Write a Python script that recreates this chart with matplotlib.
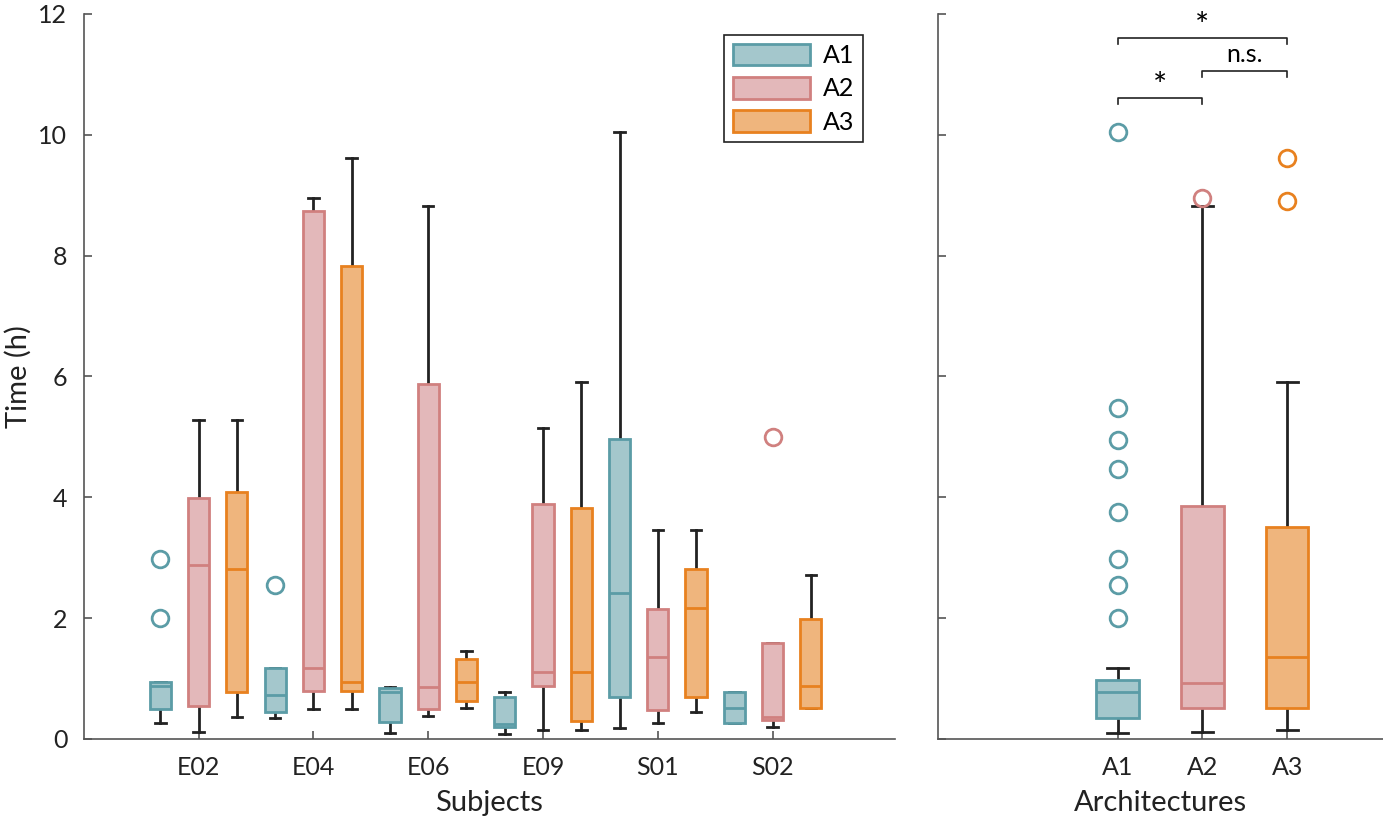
import numpy as np
import matplotlib.pyplot as plt

plt.rcParams['font.family'] = ['Lato', 'DejaVu Sans']
plt.rcParams['font.size'] = 18

subjects = ['E02', 'E04', 'E06', 'E09', 'S01', 'S02']
archs = ['A1', 'A2', 'A3']

# per-subject box statistics (hours)
a1_q1 = [0.50, 0.45, 0.28, 0.19, 0.69, 0.27]
a1_med = [0.87, 0.73, 0.78, 0.25, 2.42, 0.52]
a1_q3 = [0.95, 1.17, 0.84, 0.69, 4.97, 0.78]
a1_lo = [0.27, 0.35, 0.10, 0.09, 0.18, 0.27]
a1_hi = [0.95, 1.17, 0.86, 0.77, 10.05, 0.78]
a1_fliers = [[2.98, 2.01], [2.54], [], [], [], []]

a2_q1 = [0.55, 0.80, 0.49, 0.87, 0.48, 0.31]
a2_med = [2.88, 1.17, 0.86, 1.10, 1.35, 0.36]
a2_q3 = [3.99, 8.73, 5.88, 3.89, 2.15, 1.58]
a2_lo = [0.12, 0.49, 0.38, 0.15, 0.27, 0.19]
a2_hi = [5.28, 8.95, 8.82, 5.15, 3.46, 1.58]
a2_fliers = [[], [], [], [], [], [5.0]]

a3_q1 = [0.78, 0.80, 0.62, 0.29, 0.69, 0.52]
a3_med = [2.81, 0.94, 0.95, 1.10, 2.17, 0.88]
a3_q3 = [4.09, 7.82, 1.32, 3.82, 2.81, 1.98]
a3_lo = [0.36, 0.49, 0.52, 0.15, 0.44, 0.52]
a3_hi = [5.28, 9.62, 1.46, 5.91, 3.46, 2.72]
a3_fliers = [[], [], [], [], [], []]

# pooled over subjects
all_q1 = [0.34, 0.51, 0.51]
all_med = [0.77, 0.93, 1.35]
all_q3 = [0.97, 3.86, 3.50]
all_lo = [0.10, 0.12, 0.15]
all_hi = [1.17, 8.82, 5.90]
all_fliers = [[10.05, 5.47, 4.95, 4.47, 3.75, 2.97, 2.54, 2.0], [8.95], [9.62, 8.90]]

# significance tests between architectures
sig_pairs = [(1, 3), (2, 3), (1, 2)]
sig_heights = [11.6, 11.05, 10.6]
sig_labels = ['*', 'n.s.', '*']

edge_colors = ['#5b9ca6', '#d0807f', '#e8811f']
face_colors = ['#a4c7cc', '#e3b8ba', '#efb57d']


def make_stats(q1, med, q3, lo, hi, fliers):
    return [dict(q1=a, med=b, q3=c, whislo=d, whishi=e, fliers=f)
            for a, b, c, d, e, f in zip(q1, med, q3, lo, hi, fliers)]


def draw(ax, stats, pos, width, k):
    ax.bxp(stats, positions=pos, widths=width, capwidths=width * 0.5,
           patch_artist=True,
           boxprops=dict(facecolor=face_colors[k], edgecolor=edge_colors[k], lw=2, zorder=3),
           medianprops=dict(color=edge_colors[k], lw=2, zorder=4),
           whiskerprops=dict(color='#222222', lw=2, zorder=2),
           capprops=dict(color='#222222', lw=2, zorder=2),
           flierprops=dict(marker='o', markerfacecolor='none', markeredgecolor=edge_colors[k],
                           markersize=12, markeredgewidth=2))


fig = plt.figure(figsize=(13.83, 8.24), dpi=100)
ax1 = fig.add_axes([0.0607, 0.1032, 0.5864, 0.8800])
ax2 = fig.add_axes([0.6782, 0.1032, 0.3218, 0.8800])

per_subject = [
    make_stats(a1_q1, a1_med, a1_q3, a1_lo, a1_hi, a1_fliers),
    make_stats(a2_q1, a2_med, a2_q3, a2_lo, a2_hi, a2_fliers),
    make_stats(a3_q1, a3_med, a3_q3, a3_lo, a3_hi, a3_fliers),
]
group = np.arange(len(subjects)) * 3
for k in range(3):
    draw(ax1, per_subject[k], group + k, 0.55, k)

pooled = make_stats(all_q1, all_med, all_q3, all_lo, all_hi, all_fliers)
for k in range(3):
    draw(ax2, [pooled[k]], [k + 1], 0.5, k)

handles = [plt.Rectangle((0, 0), 1, 1, facecolor=face_colors[k], edgecolor=edge_colors[k], lw=2)
           for k in range(3)]
leg = ax1.legend(handles, archs, loc='upper right', bbox_to_anchor=(0.9605, 0.971),
                 borderaxespad=0, fancybox=False, edgecolor='#222222', framealpha=1,
                 handlelength=3.1, handleheight=0.95, labelspacing=0.4, handletextpad=0.5,
                 borderpad=0.35, fontsize=18)
leg.get_frame().set_linewidth(1.2)

for (a, b), h, lab in zip(sig_pairs, sig_heights, sig_labels):
    ax2.plot([a, a, b, b], [h - 0.1, h, h, h - 0.1], color='#222222', lw=1.2, clip_on=False)
    if lab == '*':
        ax2.text((a + b) / 2, h - 0.06, lab, ha='center', va='bottom', fontsize=24)
    else:
        ax2.text((a + b) / 2, h + 0.08, lab, ha='center', va='bottom', fontsize=18)

for ax in (ax1, ax2):
    ax.set_ylim(0, 12)
    ax.set_yticks(np.arange(0, 13, 2))
    for s in ('top', 'right'):
        ax.spines[s].set_visible(False)
    for s in ('left', 'bottom'):
        ax.spines[s].set_color('#555555')
        ax.spines[s].set_linewidth(1.2)
    ax.tick_params(direction='in', length=6, width=1.2, color='#555555',
                   labelcolor='#222222', labelsize=18, pad=12)

ax1.set_xlim(-2, 19.2)
ax1.set_xticks(group + 1)
ax1.set_xticklabels(subjects)
ax1.set_xlabel('Subjects', fontsize=21, color='#222222', labelpad=8)
ax1.set_ylabel('Time (h)', fontsize=21, color='#222222', labelpad=5)

ax2.set_xlim(-1.12, 4.13)
ax2.set_xticks([1, 2, 3])
ax2.set_xticklabels(archs)
ax2.tick_params(axis='y', labelleft=False)
ax2.set_xlabel('Architectures', fontsize=21, color='#222222', labelpad=8)

fig.savefig('out.png', dpi=100)
